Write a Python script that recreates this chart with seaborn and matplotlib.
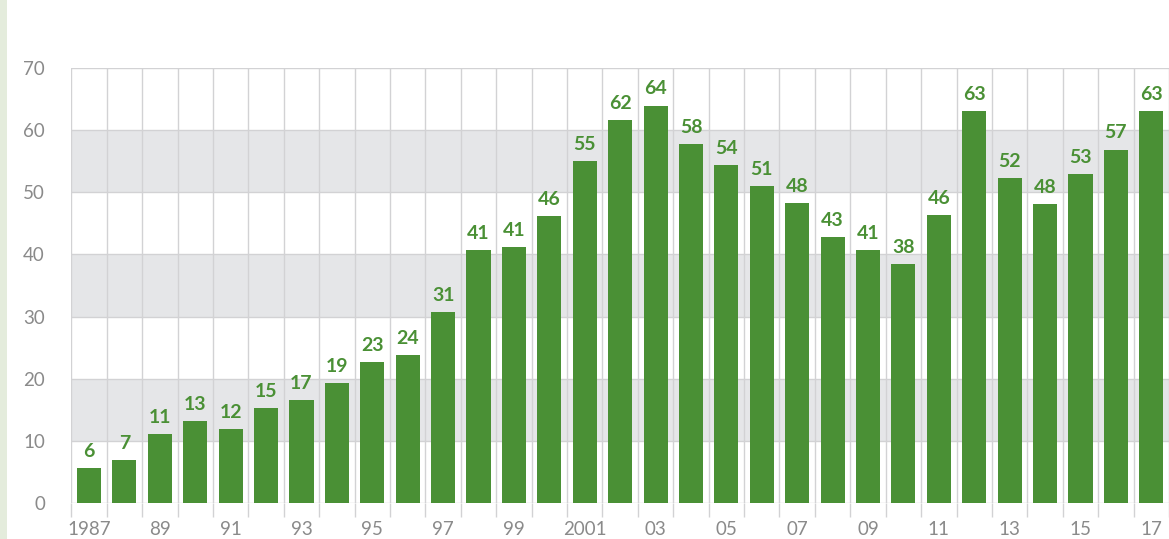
import matplotlib
matplotlib.use("Agg")
import matplotlib.pyplot as plt
from matplotlib.patches import Rectangle
import seaborn as sns

# ── Data ──────────────────────────────────────────────────────────────────
years = list(range(1987, 2018))
values = [5.6, 6.9, 11.1, 13.2, 11.9, 15.3, 16.6, 19.3, 22.6, 23.8,
          30.7, 40.7, 41.2, 46.2, 55.0, 61.6, 64.0, 57.8, 54.4, 51.0,
          48.3, 42.8, 40.7, 38.4, 46.3, 63.1, 52.3, 48.1, 53.0, 56.9, 63.1]
value_labels = ["6", "7", "11", "13", "12", "15", "17", "19", "23", "24",
                "31", "41", "41", "46", "55", "62", "64", "58", "54", "51",
                "48", "43", "41", "38", "46", "63", "52", "48", "53", "57", "63"]
tick_labels = ["1987", "89", "91", "93", "95", "97", "99", "2001",
               "03", "05", "07", "09", "11", "13", "15", "17"]

bar_color = "#4a9035"
text_grey = "#8a8a8a"
grid_grey = "#d2d2d4"
band_grey = "#e5e6e8"

sns.set_style("white")
plt.rcParams["font.family"] = ["Lato", "DejaVu Sans"]

fig = plt.figure(figsize=(11.69, 5.39), dpi=100)
ax = fig.add_axes([0.061, 0.0673, 0.939, 0.806])

# left accent stripe
fig.patches.append(Rectangle((0, 0), 7 / 1169, 1, transform=fig.transFigure,
                             facecolor="#e4ecdc", edgecolor="none", zorder=0))

# alternating bands
for lo in (10, 30, 50):
    ax.axhspan(lo, lo + 10, color=band_grey, zorder=0, lw=0)

sns.barplot(x=[str(y) for y in years], y=values, color=bar_color,
            width=0.68, saturation=1, linewidth=0, ax=ax, zorder=3)

for i, (v, lab) in enumerate(zip(values, value_labels)):
    ax.annotate(lab, (i, v), xytext=(0, 8), textcoords="offset points",
                ha="center", va="baseline", fontsize=14, fontweight="bold",
                color=bar_color, zorder=4)

ax.set_xlim(-0.5, len(years) - 0.5)
ax.set_ylim(0, 70)

ax.set_yticks(range(0, 80, 10))
ax.set_xticks(range(0, len(years), 2))
ax.set_xticklabels(tick_labels)
ax.set_xticks([i - 0.5 for i in range(len(years) + 1)], minor=True)

ax.tick_params(axis="y", which="major", length=11, width=1, color=grid_grey,
               labelsize=13.5, labelcolor=text_grey, pad=8)
ax.tick_params(axis="x", which="major", length=0, labelsize=13.5,
               labelcolor=text_grey, pad=13)
ax.tick_params(axis="x", which="minor", length=10, width=1, color=grid_grey,
               bottom=True)

ax.grid(axis="y", which="major", color=grid_grey, lw=1, zorder=1)
ax.grid(axis="x", which="minor", color=grid_grey, lw=1, zorder=1)
ax.grid(axis="x", which="major", visible=False)
ax.set_axisbelow(True)

for s in ax.spines.values():
    s.set_visible(False)
ax.set_xlabel("")
ax.set_ylabel("")

fig.savefig("out.png", dpi=100)
